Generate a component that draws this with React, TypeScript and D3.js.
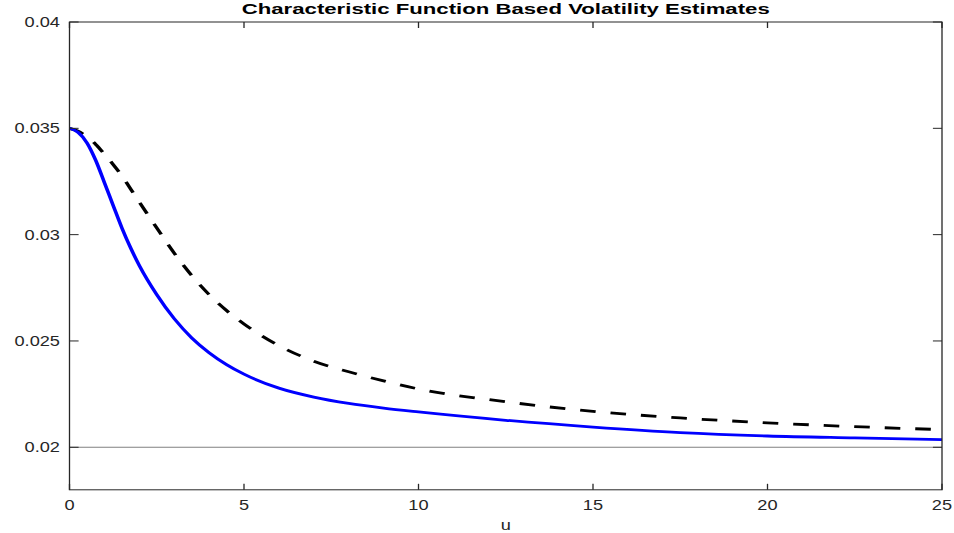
import * as d3 from 'd3';

// u grid and the two volatility estimate curves
const uValues = [0, 0.25, 0.5, 0.75, 1, 1.25, 1.5, 1.75, 2, 2.5, 3, 3.5, 4, 4.5, 5, 6, 7, 8, 9, 10, 12.5, 15, 17.5, 20, 22.5, 25];
const cfEstimate = [0.035, 0.0348, 0.03432, 0.0335, 0.03245, 0.03138, 0.03032, 0.02938, 0.02855, 0.02718, 0.02605, 0.02515, 0.02445, 0.02389, 0.02344, 0.02278, 0.02236, 0.02206, 0.02184, 0.02166, 0.02127, 0.02095, 0.02069, 0.02053, 0.02044, 0.02036];
const benchmark = [0.035, 0.03486, 0.0346, 0.03425, 0.03379, 0.0333, 0.03277, 0.03215, 0.03153, 0.03032, 0.02913, 0.02808, 0.02718, 0.02643, 0.0258, 0.02478, 0.02405, 0.02355, 0.02312, 0.02274, 0.02214, 0.02169, 0.02138, 0.02115, 0.02097, 0.02083];

const xTicks = [0, 5, 10, 15, 20, 25];
const yTicks = [0.02, 0.025, 0.03, 0.035, 0.04];
const yTickLabels = ['0.02', '0.025', '0.03', '0.035', '0.04'];
const refLevel = 0.02;

const title = 'Characteristic Function Based Volatility Estimates';
const xLabel = 'u';

const WIDTH = 954;
const HEIGHT = 533;
// the figure was exported with a horizontal stretch
const SX = 1.3;

export default function App() {
  const left = 69.5 / SX;
  const right = 942 / SX;
  const top = 22;
  const bottom = 489.8;

  const x = d3.scaleLinear().domain([0, 25]).range([left, right]);
  const y = d3.scaleLinear().domain([0.018, 0.04]).range([bottom, top]);

  const pts = (vals: number[]) => uValues.map((u, i) => [u, vals[i]] as [number, number]);
  const line = d3
    .line<[number, number]>()
    .x((d) => x(d[0]))
    .y((d) => y(d[1]))
    .curve(d3.curveMonotoneX);

  const axisColor = '#262626';
  const font = '"Liberation Sans", Arial, Helvetica, sans-serif';

  return (
    <div style={{ position: 'absolute', left: 0, top: 0 }}>
      <svg width={WIDTH} height={HEIGHT} style={{ display: 'block', background: '#fff' }}>
        <g transform={`scale(${SX},1)`} fontFamily={font}>
          {/* reference level */}
          <line x1={left} x2={right} y1={y(refLevel)} y2={y(refLevel)} stroke="#808080" strokeWidth={1} />

          {/* curves */}
          <path d={line(pts(benchmark)) ?? ''} fill="none" stroke="#000" strokeWidth={2.8} strokeDasharray="12,11.5" />
          <path d={line(pts(cfEstimate)) ?? ''} fill="none" stroke="#0000ff" strokeWidth={2.8} />

          {/* box */}
          <rect x={left} y={top} width={right - left} height={bottom - top} fill="none" stroke={axisColor} strokeWidth={1} />

          {/* x ticks, bottom and top */}
          {xTicks.map((t) => (
            <g key={`x${t}`}>
              <line x1={x(t)} x2={x(t)} y1={bottom} y2={bottom - 6} stroke={axisColor} strokeWidth={1} />
              <line x1={x(t)} x2={x(t)} y1={top} y2={top + 6} stroke={axisColor} strokeWidth={1} />
              <text x={x(t)} y={510.5} textAnchor="middle" fontSize={14} fill={axisColor}>
                {t}
              </text>
            </g>
          ))}

          {/* y ticks, left and right */}
          {yTicks.map((t, i) => (
            <g key={`y${t}`}>
              <line x1={left} x2={left + 7} y1={y(t)} y2={y(t)} stroke={axisColor} strokeWidth={1} />
              <line x1={right} x2={right - 7} y1={y(t)} y2={y(t)} stroke={axisColor} strokeWidth={1} />
              <text x={60 / SX} y={y(t)} dy="0.36em" textAnchor="end" fontSize={14} fill={axisColor}>
                {yTickLabels[i]}
              </text>
            </g>
          ))}

          {/* labels */}
          <text x={(left + right) / 2} y={530} textAnchor="middle" fontSize={14} fill={axisColor}>
            {xLabel}
          </text>
          <text
            x={(left + right) / 2}
            y={14}
            textAnchor="middle"
            fontSize={15}
            fontWeight="bold"
            fill="#000"
            textLength={528 / SX}
            lengthAdjust="spacingAndGlyphs"
          >
            {title}
          </text>
        </g>
      </svg>
    </div>
  );
}
